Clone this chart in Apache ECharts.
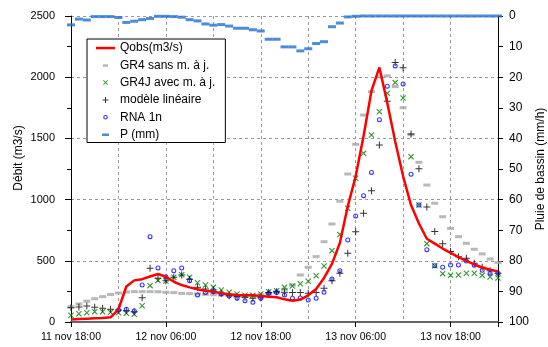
<!DOCTYPE html>
<html>
<head>
<meta charset="utf-8">
<script src="https://cdn.jsdelivr.net/npm/echarts@6/dist/echarts.min.js"></script>
<style>
html, body { margin: 0; padding: 0; background: #fff; }
#main { width: 548px; height: 347px; }
</style>
</head>
<body>
<div id="main"></div>
<script>
// heures depuis le 11 nov 18:00
const hours = [0, 1, 2, 3, 4, 5, 6, 7, 8, 9, 10, 11, 12, 13, 14, 15, 16, 17, 18, 19, 20,
  21, 22, 23, 24, 25, 26, 27, 28, 29, 30, 31, 32, 33, 34, 35, 36, 37, 38, 39, 40,
  41, 42, 43, 44, 45, 46, 47, 48, 49, 50, 51, 52, 53, 54];

const tickHours = [0, 12, 24, 36, 48];
const tickLabels = ['11 nov 18:00', '12 nov 06:00', '12 nov 18:00', '13 nov 06:00', '13 nov 18:00'];

const qobs = [20, 24, 27, 30, 33, 38, 104, 290, 340, 350, 372, 392, 370, 329, 302, 283, 267, 255, 248, 235,
  226, 221, 218, 218, 212, 207, 202, 185, 174, 183, 218, 270, 360, 475, 645, 945, 1190, 1520, 1890, 2080,
  1790, 1475, 1190, 955, 805, 680, 640, 600, 565, 530, 500, 470, 445, 428, 412];

const gr4 = [125, 147, 170, 190, 207, 225, 237, 245, 248, 248, 248, 247, 243, 240, 234, 232, 229, 226, 223, 221,
  218, 215, 215, 218, 223, 229, 245, 267, 302, 384, 447, 534, 656, 801, 987, 1209, 1452, 1691, 1882, 2002,
  2011, 1923, 1751, 1530, 1305, 1119, 970, 860, 765, 697, 643, 594, 556, 515, 485];

const gr4j = [55, 68, 76, 84, 84, 79, 76, 71, 63, 133, 297, 340, 335, 365, 387, 365, 321, 302, 283, 261,
  243, 229, 218, 218, 229, 248, 256, 283, 294, 312, 333, 378, 458, 583, 715, 929, 1174, 1378, 1528, 1718,
  1868, 1956, 1830, 1351, 956, 640, 460, 395, 381, 384, 398, 398, 381, 368, 360];

const lineaire = [117, 123, 131, 120, 112, 105, 98, 92, 84, 199, 439, 357, 337, 365, 384, 349, 283, 270, 261, 234,
  215, 207, 202, 194, 199, 240, 248, 243, 240, 240, 234, 240, 275, 337, 398, 561, 738, 888, 1072, 1446,
  1803, 2120, 2077, 1536, 1253, 940, 740, 640, 577, 534, 520, 479, 447, 419, 398];

const rna = [null, null, null, null, null, null, 98, 104, 90, 302, 697, 442, 370, 419, 441, 337, 221, 240, 248, 229,
  212, 194, 174, 161, 194, 234, 240, 221, 194, 196, 180, 194, 243, 351, 419, 670, 867, 1032, 1222, 1653,
  1926, 2092, 1945, 1207, 956, 591, 460, 447, 466, 466, 498, 464, 422, 399, 398];

const pluie = [2.9, 1.0, 1.3, 0.2, 0.2, 0.2, 0.5, 2.1, 1.7, 1.2, 0.8, 0.1, 0.1, 0.2, 0.4, 1.2, 1.6, 2.6, 3.0, 2.8,
  3.3, 4.0, 4.0, 4.5, 4.9, 7.6, 7.6, 10.1, 10.1, 11.4, 10.7, 9.0, 8.4, 3.5, 2.3, 0.3, 0.1, 0, 0, 0,
  0, 0, 0, 0, 0, 0, 0, 0, 0, 0, 0, 0, 0, 0, 0];

const FONT = '"Liberation Sans", Arial, sans-serif';
const pair = arr => arr.map((v, i) => [hours[i], v]);

// symboles
const plus = 'path://M3,0L4,0L4,7L3,7Z M0,3L7,3L7,4L0,4Z';
const cross = 'path://M0,0.8L0.8,0L6,5.2L5.2,6Z M5.2,0L6,0.8L0.8,6L0,5.2Z';
const ring = 'path://M0,3A3,3 0 1,1 6,3A3,3 0 1,1 0,3Z M1.3,3A1.7,1.7 0 1,0 4.7,3A1.7,1.7 0 1,0 1.3,3Z';

// icones de légende (19x12)
const icons = {
  qobs: 'path://M0,0M19,12M0,4.8L19,4.8L19,7.3L0,7.3Z',
  gr4: 'path://M0,0M19,12M7,5L12,5L12,7.5L7,7.5Z',
  gr4j: 'path://M0,0M19,12M7,4.2L7.7,3.5L12,7.8L11.3,8.5Z M11.3,3.5L12,4.2L7.7,8.5L7,7.8Z',
  lin: 'path://M0,0M19,12M9,3L10,3L10,9L9,9Z M6.5,5.5L12.5,5.5L12.5,6.5L6.5,6.5Z',
  rna: 'path://M0,0M19,12M7.2,6A2.3,2.3 0 1,1 11.8,6A2.3,2.3 0 1,1 7.2,6Z M8.3,6A1.2,1.2 0 1,0 10.7,6A1.2,1.2 0 1,0 8.3,6Z',
  p: 'path://M0,0M19,12M6,5L13,5L13,7.5L6,7.5Z'
};

const names = ['Qobs(m3/s)', 'GR4 sans m. à j.', 'GR4J avec m. à j.', 'modèle linéaire', 'RNA 1n', 'P (mm)'];

const chart = echarts.init(document.getElementById('main'));

const gridLine = { show: true, lineStyle: { color: '#9a9a9a', type: [3, 3], width: 1 } };

chart.setOption({
  animation: false,
  backgroundColor: '#fff',
  textStyle: { fontFamily: FONT },
  grid: { left: 71, right: 50, top: 16, bottom: 25, containLabel: false, outerBoundsMode: 'none' },
  legend: {
    orient: 'vertical',
    left: 87,
    top: 39,
    backgroundColor: '#fff',
    borderColor: '#000',
    borderWidth: 1,
    borderRadius: 0,
    padding: [3, 10, 2, 9],
    itemWidth: 19,
    itemHeight: 12,
    itemGap: 5.3,
    selectedMode: false,
    itemStyle: { borderWidth: 0 },
    textStyle: { fontFamily: FONT, fontSize: 12, color: '#000' },
    data: [
      { name: names[0], icon: icons.qobs },
      { name: names[1], icon: icons.gr4 },
      { name: names[2], icon: icons.gr4j },
      { name: names[3], icon: icons.lin },
      { name: names[4], icon: icons.rna },
      { name: names[5], icon: icons.p }
    ]
  },
  xAxis: [
    {
      type: 'value', position: 'bottom', min: 0, max: 54, interval: 6,
      axisLine: { show: true, onZero: false, lineStyle: { color: '#666', width: 2 } },
      axisTick: { show: false },
      axisLabel: {
        fontFamily: FONT, fontSize: 10.5, color: '#000', margin: 10,
        showMinLabel: true, showMaxLabel: true,
        formatter: v => {
          const k = tickHours.indexOf(v);
          return k >= 0 ? tickLabels[k] : '';
        }
      },
      splitLine: gridLine
    },
    {
      type: 'value', position: 'bottom', min: 0, max: 54, interval: 12,
      axisLine: { show: false },
      axisTick: { show: true, length: 5, lineStyle: { color: '#000' } },
      axisLabel: { show: false },
      splitLine: { show: false }
    }
  ],
  yAxis: [
    {
      type: 'value', position: 'left', min: 0, max: 2500, interval: 500,
      name: 'Débit (m3/s)', nameLocation: 'middle', nameGap: 46, nameMoveOverlap: false,
      nameTextStyle: { fontFamily: FONT, fontSize: 12, color: '#000', padding: [0, 0, 0, 22] },
      axisLine: { show: true, onZero: false, lineStyle: { color: '#000', width: 1 } },
      axisTick: { show: true, length: 6, lineStyle: { color: '#000' } },
      axisLabel: { fontFamily: FONT, fontSize: 11, color: '#000', margin: 16, formatter: v => String(v) },
      splitLine: gridLine
    },
    {
      type: 'value', position: 'right', inverse: true, min: 0, max: 100, interval: 10,
      name: 'Pluie de bassin (mm/h)', nameLocation: 'middle', nameGap: 37, nameMoveOverlap: false,
      nameTextStyle: { fontFamily: FONT, fontSize: 12, color: '#000' },
      axisLine: { show: true, onZero: false, lineStyle: { color: '#000', width: 1 } },
      axisTick: { show: true, length: 5, lineStyle: { color: '#000' } },
      axisLabel: { fontFamily: FONT, fontSize: 12, color: '#000', margin: 11, formatter: v => String(v) },
      splitLine: { show: false }
    },
    {
      type: 'value', position: 'right', inverse: true, min: 0, max: 100, interval: 10,
      axisLine: { show: false },
      axisTick: { show: true, inside: true, length: 4, lineStyle: { color: '#000' } },
      axisLabel: { show: false },
      splitLine: { show: false }
    }
  ],
  series: [
    {
      name: names[0], type: 'line', data: pair(qobs), symbol: 'none',
      lineStyle: { color: '#ff0000', width: 2.5 }, itemStyle: { color: '#ff0000' }
    },
    {
      name: names[1], type: 'scatter', data: pair(gr4), symbol: 'rect', symbolSize: [7, 3],
      itemStyle: { color: '#a6a6a6' }
    },
    {
      name: names[2], type: 'scatter', data: pair(gr4j), symbol: cross, symbolSize: 6,
      itemStyle: { color: '#008000' }
    },
    {
      name: names[3], type: 'scatter', data: pair(lineaire), symbol: plus, symbolSize: 7,
      itemStyle: { color: '#000' }
    },
    {
      name: names[4], type: 'scatter', data: pair(rna).filter(d => d[1] !== null), symbol: ring, symbolSize: 5,
      itemStyle: { color: '#0000ff' }
    },
    {
      name: names[5], type: 'scatter', yAxisIndex: 1, data: pair(pluie), symbol: 'rect', symbolSize: [8, 3],
      itemStyle: { color: '#1f6fd0' }
    }
  ]
});
</script>
</body>
</html>
